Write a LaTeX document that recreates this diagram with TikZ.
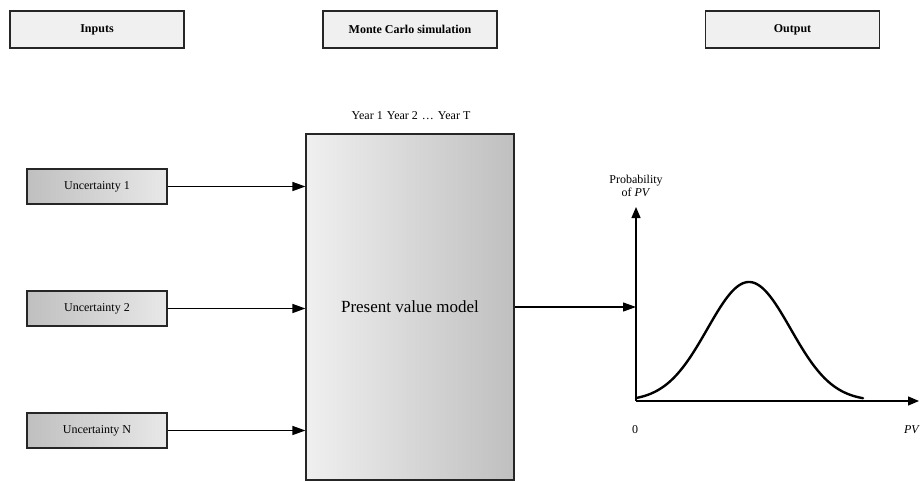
\documentclass[tikz,border=0pt]{standalone}
\usepackage{fontspec}
\setmainfont{Liberation Serif}
\usetikzlibrary{arrows.meta,calc}

\tikzset{
  header/.style={draw=black!85, line width=1.3pt, fill=black!6, minimum width=174pt,
    minimum height=37pt, inner sep=0pt, font=\fontsize{12}{14}\selectfont\bfseries},
  uncbox/.style={draw=black!85, line width=1.1pt, left color=black!25, right color=black!9,
    minimum width=140pt, minimum height=35pt, inner sep=0pt, font=\fontsize{12}{14}\selectfont},
  modelbox/.style={draw=black!85, line width=1.1pt, left color=black!6, right color=black!25,
    minimum width=208pt, minimum height=346pt, inner sep=0pt, font=\fontsize{17}{20}\selectfont},
  flow/.style={line width=1.2pt, -{Triangle[length=13pt,width=9pt]}},
  axis/.style={line width=1.3pt, -{Triangle[length=11pt,width=9pt]}},
  lbl/.style={inner sep=0pt, font=\fontsize{12}{14}\selectfont},
}

\begin{document}
\begin{tikzpicture}[x=1pt,y=-1pt]
  \useasboundingbox (0,0) rectangle (924,482);

  % column headers
  \node[header] (inputs) at (97,29.5) {Inputs};
  \node[header] (mc) at (410,29.5) {Monte Carlo simulation};
  \node[header] (output) at (792.5,29.5) {Output};

  % uncertain inputs
  \node[uncbox] (u1) at (97,186.5) {Uncertainty 1};
  \node[uncbox] (u2) at (97,308.5) {Uncertainty 2};
  \node[uncbox] (uN) at (97,430.5) {Uncertainty N};

  % simulation model
  \node[modelbox] (model) at (410,307) {Present value model};
  \node[lbl] (years) at (411,116) {Year 1\hspace{4pt}Year 2\hspace{4pt}\dots\hspace{4pt}Year T};

  % inputs feed the model
  \draw[flow] (u1.east) -- (u1.east -| model.west);
  \draw[flow] (u2.east) -- (u2.east -| model.west);
  \draw[flow] (uN.east) -- (uN.east -| model.west);

  % distribution of PV
  \coordinate (origin) at (636,401);
  \coordinate (ytop) at (636,207);
  \coordinate (xend) at (919,401);
  \draw[axis] (origin) -- (ytop);
  \draw[axis] (origin) -- (xend);
  \draw[flow] (model.east) -- (model.east -| origin);

  \node[lbl, align=center] (ylabel) at (636,185.5) {Probability\\[-1pt]of \textit{PV}};
  \node[lbl] (zero) at (635,430) {0};
  \node[lbl] (xlabel) at (912,430) {\textit{PV}};

  \draw[line width=2.4pt, line cap=round]
    plot[domain=-113:114, samples=120, smooth] ({749+\x}, {401-119*exp(-(\x*\x)/(2*41.6*41.6))});
\end{tikzpicture}
\end{document}
